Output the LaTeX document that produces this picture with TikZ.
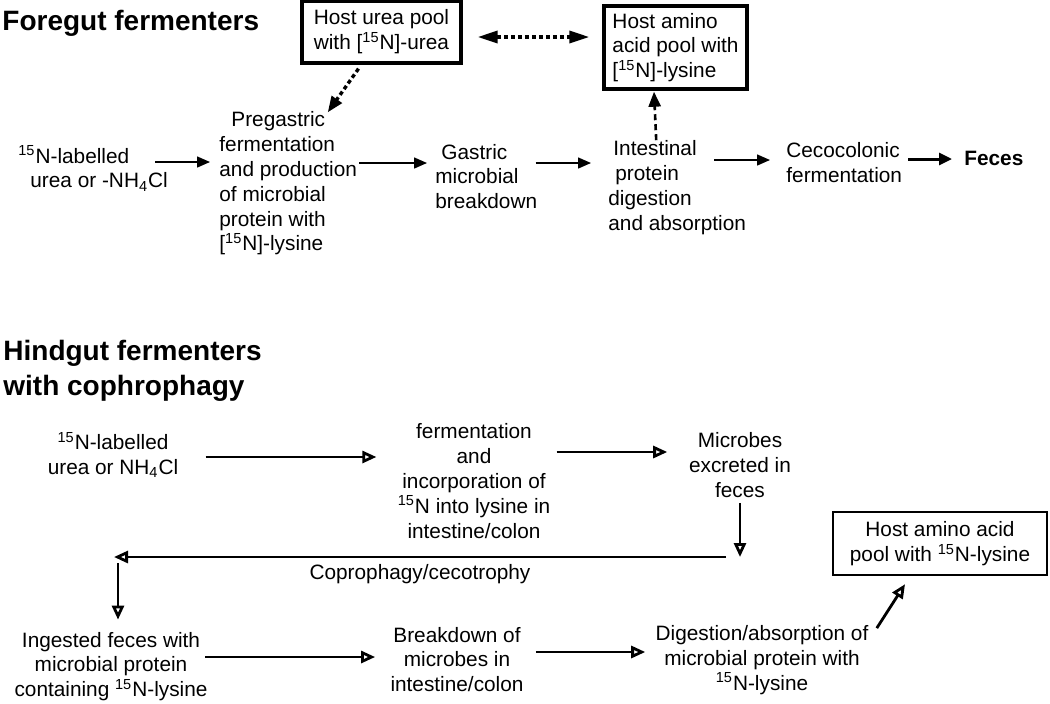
\documentclass[tikz,border=0pt]{standalone}
\usepackage{fontspec}
\setmainfont{Liberation Sans}
\usetikzlibrary{arrows.meta,calc,positioning}

\begin{document}
\begin{tikzpicture}[x=0.5pt,y=-0.5pt,
    txt/.style={font=\fontsize{10.4}{12.4}\selectfont, inner sep=0pt},
    ttl/.style={font=\fontsize{14}{17.5}\selectfont\bfseries, inner sep=0pt, align=left},
    pool/.style={txt, draw, line width=1.7pt, align=left},
    fwd/.style={-{Triangle[length=6.5pt,width=5.5pt]}, line width=0.75pt},
    bwd/.style={-{Triangle[open,length=7pt,width=6pt]}, line width=1.4pt},
    dots/.style={line width=1.7pt, dash pattern=on 2pt off 1.5pt},
  ]
\useasboundingbox (0,0) rectangle (1050,703);

% foregut
\node[ttl, anchor=west] (fgt) at (2,23) {Foregut fermenters};
\node[pool, minimum width=79.5pt, minimum height=31pt] (urea) at (381.5,32) {Host urea pool\\with [\textsuperscript{15}N]-urea};
\node[pool, minimum width=71.5pt, minimum height=41.5pt] (amino) at (675.5,47.5) {Host amino\\acid pool with\\{[}\textsuperscript{15}N{]}-lysine};

\node[txt, anchor=west, align=left] (lab) at (18,168.5) {\textsuperscript{15}N-labelled\\\hspace*{6pt}urea or -NH\textsubscript{4}Cl};
\node[txt, anchor=west, align=left] (preg) at (219,183.5) {\hspace*{6pt}Pregastric\\fermentation\\and production\\of microbial\\protein with\\{[}\textsuperscript{15}N{]}-lysine};
\node[txt, anchor=west, align=left] (gas) at (435,176.5) {\hspace*{3pt}Gastric\\microbial\\breakdown};
\node[txt, anchor=west, align=left] (intn) at (608,187.5) {\hspace*{2.5pt}Intestinal\\\hspace*{3.5pt}protein\\digestion\\and absorption};
\node[txt, anchor=west, align=left] (cec) at (786,162.5) {Cecocolonic\\fermentation};
\node[txt, anchor=west, font=\fontsize{10.4}{12.4}\selectfont\bfseries] (fec) at (964,158) {Feces};

\draw[fwd] ($(lab.east)+(-13,-6.5)$) -- ($(preg.west)+(-9,-21.5)$);
\draw[fwd] ($(preg.east)+(2,-20.5)$) -- ($(gas.west)+(-8,-13.5)$);
\draw[fwd] ($(gas.east)+(-2,-13.5)$) -- ($(intn.west)+(-17,-24.5)$);
\draw[fwd] ($(intn.east)+(-32,-27.5)$) -- ($(cec.west)+(-16,-2.5)$);
\draw[-{Triangle[length=6.5pt,width=6pt]}, line width=1.5pt] ($(cec.east)+(6,-3.5)$) -- ($(fec.west)+(-12,1)$);

\draw[dots, {Triangle[length=10pt,width=6pt]}-{Triangle[length=10pt,width=6pt]}] ($(urea.east)+(15,5)$) -- ($(amino.west)+(-13,-10.5)$);
\draw[dots, -{Triangle[length=8pt,width=6pt]}] ($(urea.south)+(-23,4)$) -- ($(preg.north)+(39.5,1)$);
\draw[line width=1.3pt, dash pattern=on 3pt off 2pt, -{Triangle[length=7.5pt,width=6pt]}] ($(intn.north)+(-21,0)$) -- ($(amino.south)+(-21.5,1)$);

% hindgut
\node[ttl, anchor=west] (hgt) at (3,370.5) {Hindgut fermenters\\with cophrophagy};
\node[txt, align=center] (lab2) at (113,455) {\textsuperscript{15}N-labelled\\urea or NH\textsubscript{4}Cl};
\node[txt, align=center] (ferm) at (474,481) {fermentation\\and\\incorporation of\\\textsuperscript{15}N into lysine in\\intestine/colon};
\node[txt, align=center] (mic) at (740,465) {Microbes\\excreted in\\feces};
\node[txt, align=center] (ing) at (111,666.5) {Ingested feces with\\microbial protein\\containing \textsuperscript{15}N-lysine};
\node[txt, align=center] (brk) at (457,659.5) {Breakdown of\\microbes in\\intestine/colon};
\node[txt, align=center] (dig) at (762,660) {Digestion/absorption of\\microbial protein with\\\textsuperscript{15}N-lysine};
\node[txt, draw, line width=1.2pt, align=center, minimum width=107pt, minimum height=31.5pt] (hpool) at (940,543.5) {Host amino acid\\pool with \textsuperscript{15}N-lysine};
\coordinate (turn) at (740,557);

\draw[bwd] ($(lab2.east)+(27,2)$) -- ($(ferm.west)+(-21,-24)$);
\draw[bwd] ($(ferm.east)+(6,-29)$) -- ($(mic.west)+(-21.5,-13)$);
\draw[bwd] ($(mic.south)+(0,5)$) -- (turn);
\draw[bwd] ($(turn)+(-14,0)$) -- ($(ing.north |- turn)+(3,0)$) node[txt, midway, below=3pt] (cop) {Coprophagy/cecotrophy};
\draw[bwd] ($(ing.north |- turn)+(7,6)$) -- ($(ing.north)+(7,-12)$);
\draw[bwd] ($(ing.east)+(-2.5,-9.5)$) -- ($(brk.west)+(-15,-2.5)$);
\draw[bwd] ($(brk.east)+(12,-7.5)$) -- ($(dig.west)+(-10,-8)$);
\draw[bwd] ($(dig.north east)+(8,3)$) -- ($(hpool.south)+(-35,8)$);
\end{tikzpicture}
\end{document}
